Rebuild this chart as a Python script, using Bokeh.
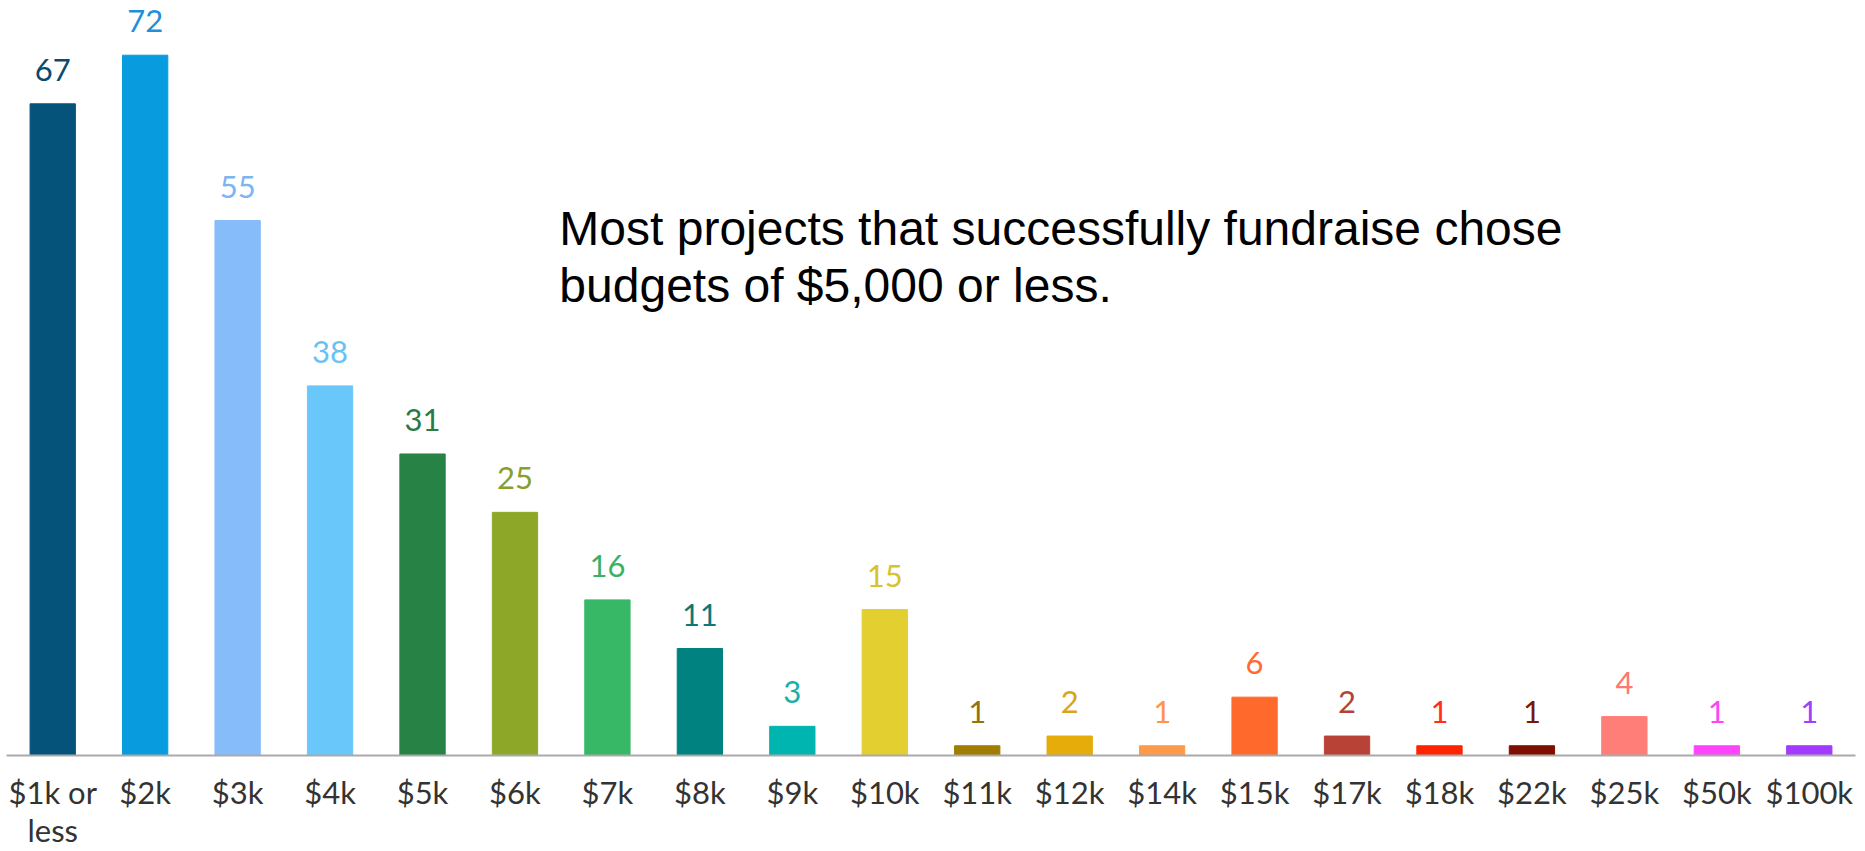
from bokeh.plotting import figure
from bokeh.models import ColumnDataSource, FactorRange, Label
from bokeh.core.properties import value
from bokeh.embed import file_html
from bokeh.resources import INLINE

categories = ["$1k or\nless", "$2k", "$3k", "$4k", "$5k", "$6k", "$7k", "$8k", "$9k", "$10k",
              "$11k", "$12k", "$14k", "$15k", "$17k", "$18k", "$22k", "$25k", "$50k", "$100k"]
counts = [67, 72, 55, 38, 31, 25, 16, 11, 3, 15, 1, 2, 1, 6, 2, 1, 1, 4, 1, 1]
bar_colors = ["#05537A", "#089CDF", "#87BCFB", "#6AC7F9", "#268245", "#8DA828", "#37B866",
              "#008280", "#00B5B0", "#E3CF2F", "#A07C00", "#E5AC0A", "#FF9A4A", "#FF6A2C",
              "#B94236", "#FF2400", "#7D0E00", "#FF7E78", "#FF44FF", "#A23BFF"]
label_colors = ["#0B4A6F", "#1F8FD8", "#7DB4F5", "#66C2F5", "#2A7A44", "#86A02A", "#3BB066",
                "#0A7A78", "#16AFAA", "#D9C22A", "#96730A", "#DDA314", "#FF944A", "#FF6A35",
                "#B0423A", "#FF3015", "#7D1505", "#FF7872", "#FF44F5", "#A040FF"]
note_lines = ["Most projects that successfully fundraise chose", "budgets of $5,000 or less."]

src = ColumnDataSource(dict(cat=categories, n=counts, color=bar_colors,
                            lcolor=label_colors, txt=[str(v) for v in counts]))

p = figure(x_range=FactorRange(factors=categories, range_padding=0),
           y_range=(0, 76.8), width=1861, height=851,
           output_backend="svg", toolbar_location=None,
           min_border_left=6, min_border_right=6, min_border_top=8, min_border_bottom=90)

p.vbar(x="cat", top="n", width=0.49, color="color", source=src)
p.text(x="cat", y="n", text="txt", text_color="lcolor", source=src,
       text_align="center", text_baseline="alphabetic", y_offset=-34,
       text_font=value("Lato"), text_font_size="31px")

p.add_layout(Label(x=5.98, y=54.2, text=note_lines[0], text_baseline="middle",
                   text_font="Liberation Sans", text_font_size="48px", text_color="black"))
p.add_layout(Label(x=5.98, y=48.3, text=note_lines[1], text_baseline="middle",
                   text_font="Liberation Sans", text_font_size="48px", text_color="black"))

p.yaxis.visible = False
p.xgrid.visible = False
p.ygrid.visible = False
p.outline_line_color = None
p.xaxis.axis_line_color = "#AAAAAA"
p.xaxis.axis_line_width = 2
p.xaxis.major_tick_line_color = None
p.xaxis.minor_tick_line_color = None
p.xaxis.major_label_standoff = 11
p.xaxis.major_label_text_line_height = 1.0
p.xaxis.major_label_text_font = "Lato"
p.xaxis.major_label_text_font_size = "31px"
p.xaxis.major_label_text_color = "#333333"

open("out.html", "w").write(file_html(p, INLINE))
